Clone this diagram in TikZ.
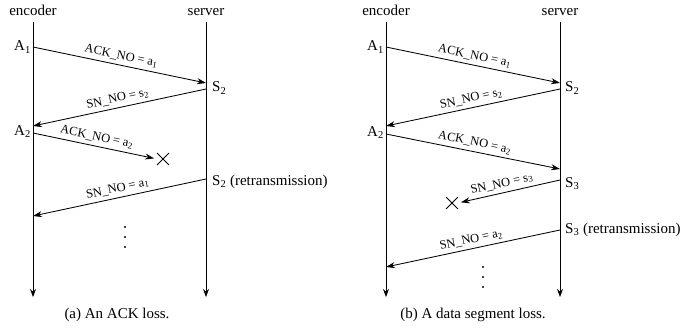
\documentclass[tikz,border=0pt]{standalone}
\usepackage{fontspec}
\setmainfont{Liberation Serif}
\usetikzlibrary{arrows.meta,shapes.misc}
\begin{document}
\begin{tikzpicture}[x=1pt,y=-1pt,
  lifeline/.style={line width=0.85pt,-{Stealth[length=8pt,width=6pt]}},
  msg/.style={line width=0.85pt,-{Stealth[length=9pt,width=6pt]}},
  lbl/.style={font=\fontsize{15}{18}\selectfont,inner sep=0pt},
  msglbl/.style={font=\fontsize{12.5}{14}\selectfont,sloped,above,inner sep=3.5pt,pos=0.5},
  lost/.style={draw,cross out,line width=0.9pt,minimum size=11pt,inner sep=0pt},
  dot/.style={fill,circle,inner sep=0pt,minimum size=2.4pt},
]
\useasboundingbox (0,0) rectangle (682,329);

% ---------- (a) ACK loss ----------
\node[lbl,anchor=base] (encA) at (33,16) {encoder};
\node[lbl,anchor=base] (srvA) at (206,16) {server};
\coordinate (encAtop) at (33,22);  \coordinate (encAbot) at (33,297);
\coordinate (srvAtop) at (206,22); \coordinate (srvAbot) at (206,297);
\draw[lifeline] (encAtop) -- (encAbot);
\draw[lifeline] (srvAtop) -- (srvAbot);

\node[lbl,anchor=base east] (aA1) at (31,51) {A\textsubscript{1}};
\node[lbl,anchor=base east] (aA2) at (31,135) {A\textsubscript{2}};
\node[lbl,anchor=base west] (aS2) at (212,92) {S\textsubscript{2}};
\node[lbl,anchor=base west] (aS2r) at (212,185) {S\textsubscript{2} (retransmission)};

\coordinate (a1s) at (33,47);   \coordinate (a1e) at (206,83);
\coordinate (a2s) at (206,89);  \coordinate (a2e) at (33,126);
\coordinate (a3s) at (33,133);
\node[lost] (xa) at (163,159) {};
\coordinate (a4s) at (206,179); \coordinate (a4e) at (33,216);

\draw[msg] (a1s) -- node[msglbl] {ACK\_NO = a\textsubscript{1}} (a1e);
\draw[msg] (a2s) -- node[msglbl] {SN\_NO = s\textsubscript{2}} (a2e);
\draw[msg,shorten >=3pt] (a3s) -- node[msglbl] {ACK\_NO = a\textsubscript{2}} (xa.west);
\draw[msg] (a4s) -- node[msglbl] {SN\_NO = a\textsubscript{1}} (a4e);

\node[dot] (da1) at (125,227) {};
\node[dot] (da2) at (125,237) {};
\node[dot] (da3) at (125,247) {};

\node[lbl,anchor=base] (capA) at (117,318) {(a) An ACK loss.};

% ---------- (b) data segment loss ----------
\node[lbl,anchor=base] (encB) at (386,16) {encoder};
\node[lbl,anchor=base] (srvB) at (560,16) {server};
\coordinate (encBtop) at (386,22);  \coordinate (encBbot) at (386,297);
\coordinate (srvBtop) at (560,22);  \coordinate (srvBbot) at (560,297);
\draw[lifeline] (encBtop) -- (encBbot);
\draw[lifeline] (srvBtop) -- (srvBbot);

\node[lbl,anchor=base east] (bA1) at (384,51) {A\textsubscript{1}};
\node[lbl,anchor=base east] (bA2) at (384,136) {A\textsubscript{2}};
\node[lbl,anchor=base west] (bS2) at (565,92) {S\textsubscript{2}};
\node[lbl,anchor=base west] (bS3) at (565,187) {S\textsubscript{3}};
\node[lbl,anchor=base west] (bS3r) at (565,233) {S\textsubscript{3} (retransmission)};

\coordinate (b1s) at (386,47);  \coordinate (b1e) at (560,83);
\coordinate (b2s) at (560,89);  \coordinate (b2e) at (386,126);
\coordinate (b3s) at (386,134); \coordinate (b3e) at (560,169);
\coordinate (b4s) at (560,180);
\node[lost] (xb) at (452,203) {};
\coordinate (b5s) at (560,230); \coordinate (b5e) at (386,267);

\draw[msg] (b1s) -- node[msglbl] {ACK\_NO = a\textsubscript{1}} (b1e);
\draw[msg] (b2s) -- node[msglbl] {SN\_NO = s\textsubscript{2}} (b2e);
\draw[msg] (b3s) -- node[msglbl] {ACK\_NO = a\textsubscript{2}} (b3e);
\draw[msg,shorten >=3pt] (b4s) -- node[msglbl,pos=0.55] {SN\_NO = s\textsubscript{3}} (xb.east);
\draw[msg] (b5s) -- node[msglbl] {SN\_NO = a\textsubscript{2}} (b5e);

\node[dot] (db1) at (483,267) {};
\node[dot] (db2) at (483,277) {};
\node[dot] (db3) at (483,287) {};

\node[lbl,anchor=base] (capB) at (473,318) {(b) A data segment loss.};
\end{tikzpicture}
\end{document}
